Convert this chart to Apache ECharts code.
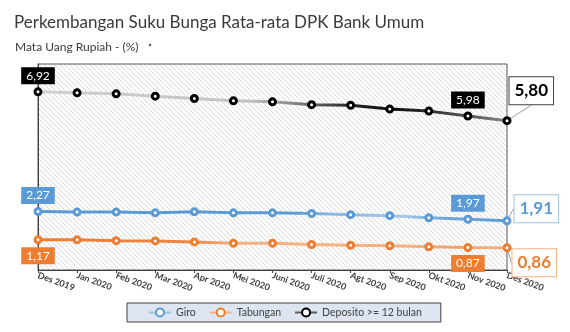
<!DOCTYPE html>
<html>
<head>
<meta charset="utf-8">
<script src="https://cdn.jsdelivr.net/npm/echarts@6/dist/echarts.min.js"></script>
<style>
  html, body { margin: 0; padding: 0; background: #ffffff; }
  #chart { width: 570px; height: 332px; }
</style>
</head>
<body>
<div id="chart"></div>
<script>
// Monthly average deposit rates (%), Dec 2019 – Dec 2020
const months = ['Des 2019', 'Jan 2020', 'Feb 2020', 'Mar 2020', 'Apr 2020', 'Mei 2020', 'Juni 2020',
                'Juli 2020', 'Agt 2020', 'Sep 2020', 'Okt 2020', 'Nov 2020', 'Des 2020'];
const giro     = [2.27, 2.25, 2.25, 2.22, 2.26, 2.22, 2.22, 2.19, 2.15, 2.11, 2.03, 1.97, 1.91];
const tabungan = [1.17, 1.17, 1.14, 1.13, 1.09, 1.04, 1.04, 0.99, 0.96, 0.94, 0.90, 0.87, 0.86];
const deposito = [6.92, 6.88, 6.84, 6.75, 6.66, 6.57, 6.53, 6.42, 6.40, 6.25, 6.17, 5.98, 5.80];

const FONT = 'Lato';
const fmt = v => v.toFixed(2).replace('.', ',');

// diagonal hatch used as the plot background
function hatchPattern() {
  const s = 5;
  const c = document.createElement('canvas');
  c.width = c.height = s;
  const g = c.getContext('2d');
  g.strokeStyle = '#dadada';
  g.lineWidth = 1;
  g.beginPath();
  g.moveTo(0, 0); g.lineTo(s, s);
  g.moveTo(-s, 0); g.lineTo(s, 2 * s);
  g.moveTo(0, -s); g.lineTo(2 * s, s);
  g.stroke();
  return { image: c, repeat: 'repeat' };
}

function grad(stops) {
  return new echarts.graphic.LinearGradient(0, 0, 1, 0,
    stops.map(s => ({ offset: s[0], color: s[1] })));
}

// small filled value tags on the first and the second-to-last point,
// a large outlined tag on the last point
function buildData(values, side, tagColor, bigText, bigBorder) {
  const last = values.length - 1;
  return values.map((v, i) => {
    if (i === 0 || i === last - 1) {
      return {
        value: v,
        label: {
          show: true, position: side, distance: 3,
          offset: i === 0 ? [-2, 0] : [0, 0],
          formatter: p => fmt(p.value),
          color: '#ffffff', fontFamily: FONT, fontSize: 12,
          backgroundColor: tagColor, padding: [2, 5], lineHeight: 13
        }
      };
    }
    if (i === last) {
      return {
        value: v,
        label: {
          show: true, position: 'right', distance: 5,
          formatter: p => fmt(p.value),
          color: bigText, fontFamily: FONT, fontSize: 17, fontWeight: 'bold',
          backgroundColor: '#ffffff', borderColor: bigBorder, borderWidth: 1,
          padding: [4, 5], lineHeight: 19
        },
        labelLine: { show: true, lineStyle: { color: '#a0a0a0', width: 1 } }
      };
    }
    return v;
  });
}

function lineSeries(name, values, lineColor, markColor, side, tagColor, bigText, bigBorder, shift, z) {
  return {
    name: name,
    type: 'line',
    z: z,
    data: buildData(values, side, tagColor, bigText, bigBorder),
    symbol: 'circle',
    symbolSize: 6,
    itemStyle: { color: '#ffffff', borderColor: markColor, borderWidth: 3 },
    lineStyle: { color: lineColor, width: 3 },
    emphasis: { disabled: true },
    labelLayout: p => (p.dataIndex === values.length - 1 ? { dx: shift[0], dy: shift[1] } : {})
  };
}

const chart = echarts.init(document.getElementById('chart'), null, { renderer: 'canvas' });

chart.setOption({
  animation: false,
  backgroundColor: '#ffffff',
  title: [
    { text: 'Perkembangan Suku Bunga Rata-rata DPK Bank Umum', left: 9, top: 9,
      textStyle: { fontFamily: FONT, fontSize: 17, fontWeight: 'normal', color: '#3a3a3a' } },
    { text: 'Mata Uang Rupiah - (%)', left: 10, top: 36,
      textStyle: { fontFamily: FONT, fontSize: 12, fontWeight: 'normal', color: '#3a3a3a' } }
  ],
  graphic: [
    { type: 'circle', shape: { cx: 150, cy: 45, r: 1.2 }, style: { fill: '#555555' } }
  ],
  grid: {
    left: 38, right: 63, top: 64, bottom: 62,
    show: true, backgroundColor: hatchPattern(),
    borderColor: '#595959', borderWidth: 1
  },
  legend: {
    left: 127, top: 303,
    backgroundColor: '#dde6f0', borderColor: '#404040', borderWidth: 1,
    padding: [4, 19, 4, 21], itemGap: 13, itemWidth: 22, itemHeight: 10,
    textStyle: { fontFamily: FONT, fontSize: 10.5, color: '#404040' },
    data: [
      { name: 'Giro', lineStyle: { color: '#9dc3e6' }, itemStyle: { color: '#ffffff', borderColor: '#5b9bd5' } },
      { name: 'Tabungan', lineStyle: { color: '#f4b183' }, itemStyle: { color: '#ffffff', borderColor: '#ed7d31' } },
      { name: 'Deposito >= 12 bulan', lineStyle: { color: '#595959' }, itemStyle: { color: '#ffffff', borderColor: '#000000' } }
    ]
  },
  xAxis: {
    type: 'category',
    data: months,
    boundaryGap: false,
    axisLine: { lineStyle: { color: '#404040', width: 1 } },
    axisTick: { show: true, length: 3, lineStyle: { color: '#404040' } },
    axisLabel: { rotate: -20, margin: 5, interval: 0, fontFamily: FONT, fontSize: 9,
                 fontWeight: 'bold', color: '#404040' }
  },
  yAxis: {
    type: 'value', min: 0, max: 8, interval: 1,
    axisLine: { show: true, lineStyle: { color: '#404040' } },
    axisLabel: { show: false }, axisTick: { show: false }, splitLine: { show: false }
  },
  series: [
    lineSeries('Giro', giro,
      grad([[0, '#5b9bd5'], [0.55, '#5b9bd5'], [0.62, '#8db8e2'], [0.78, '#a3c6e8'], [0.86, '#6fa6d9'], [1, '#5b9bd5']]),
      '#5b9bd5', 'top', '#5b9bd5', '#5b9bd5', '#9dc3e6', [-2, -12], 3),
    lineSeries('Tabungan', tabungan,
      grad([[0, '#ed7d31'], [0.33, '#ee8640'], [0.42, '#f4b183'], [0.8, '#f4b183'], [0.87, '#f0a06a'], [1, '#f4b183']]),
      '#ed7d31', 'bottom', '#ed7d31', '#ed7d31', '#f4b183', [-4, 15], 2),
    lineSeries('Deposito >= 12 bulan', deposito,
      grad([[0, '#d0d0d0'], [0.45, '#c2c2c2'], [0.52, '#9a9a9a'], [0.6, '#555555'], [0.68, '#222222'],
            [0.76, '#111111'], [0.84, '#333333'], [0.92, '#5a5a5a'], [1, '#8a8a8a']]),
      '#000000', 'top', '#000000', '#000000', '#404040', [-7, -30], 4)
  ]
});
</script>
</body>
</html>
